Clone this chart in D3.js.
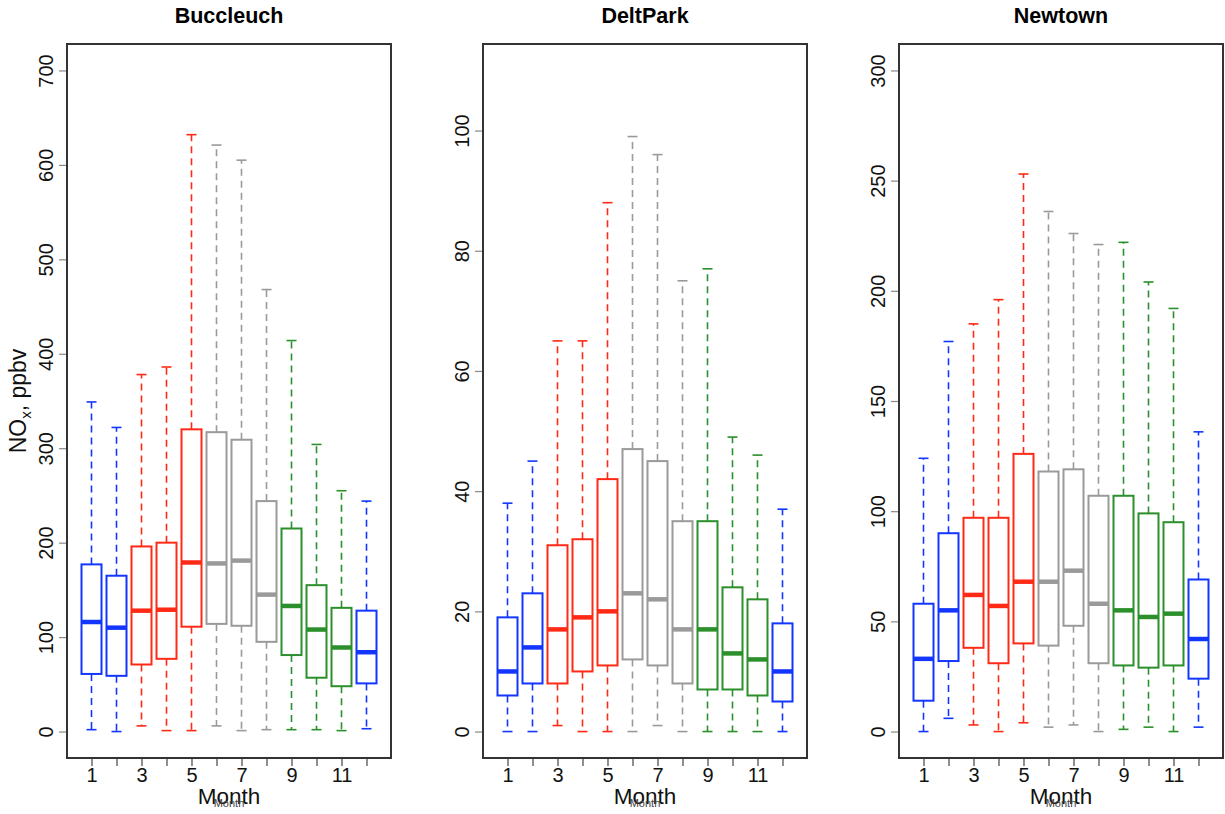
<!DOCTYPE html>
<html>
<head>
<meta charset="utf-8">
<script src="https://cdn.jsdelivr.net/npm/d3@7"></script>
<style>
  body { margin: 0; background: #fff; }
  svg { font-family: "Liberation Sans", Arial, Helvetica, sans-serif; }
</style>
</head>
<body>
<div id="chart"></div>
<script>
const months = [1, 2, 3, 4, 5, 6, 7, 8, 9, 10, 11, 12]
const monthLabels = ['1', '', '3', '', '5', '', '7', '', '9', '', '11', '']
const stations = ['Buccleuch', 'DeltPark', 'Newtown']

// season colour per month
const monthColors = ['#1236ff', '#1236ff', '#ff2a16', '#ff2a16', '#ff2a16',
  '#9a9a9a', '#9a9a9a', '#9a9a9a', '#2b8f2b', '#2b8f2b', '#2b8f2b', '#1236ff']

// Buccleuch
const buccleuchLow = [2, 0, 6, 1, 1, 6, 1, 2, 2, 2, 1, 3]
const buccleuchQ1 = [61, 59, 71, 77, 111, 114, 112, 95, 81, 57, 48, 51]
const buccleuchMed = [116, 110, 128, 129, 179, 178, 181, 145, 133, 108, 89, 84]
const buccleuchQ3 = [177, 165, 196, 200, 320, 317, 309, 244, 215, 155, 131, 128]
const buccleuchHigh = [349, 322, 378, 386, 632, 621, 605, 468, 414, 304, 255, 244]

// DeltPark
const deltParkLow = [0, 0, 1, 0, 0, 0, 1, 0, 0, 0, 0, 0]
const deltParkQ1 = [6, 8, 8, 10, 11, 12, 11, 8, 7, 7, 6, 5]
const deltParkMed = [10, 14, 17, 19, 20, 23, 22, 17, 17, 13, 12, 10]
const deltParkQ3 = [19, 23, 31, 32, 42, 47, 45, 35, 35, 24, 22, 18]
const deltParkHigh = [38, 45, 65, 65, 88, 99, 96, 75, 77, 49, 46, 37]

// Newtown
const newtownLow = [0, 6, 3, 0, 4, 2, 3, 0, 1, 2, 0, 2]
const newtownQ1 = [14, 32, 38, 31, 40, 39, 48, 31, 30, 29, 30, 24]
const newtownMed = [33, 55, 62, 57, 68, 68, 73, 58, 55, 52, 53.5, 42]
const newtownQ3 = [58, 90, 97, 97, 126, 118, 119, 107, 107, 99, 95, 69]
const newtownHigh = [124, 177, 185, 196, 253, 236, 226, 221, 222, 204, 192, 136]

const yLimits = [[0, 700], [0, 110], [0, 300]]
const yTicks = [d3.range(0, 701, 100), d3.range(0, 101, 20), d3.range(0, 301, 50)]

const statData = [
  [buccleuchLow, buccleuchQ1, buccleuchMed, buccleuchQ3, buccleuchHigh],
  [deltParkLow, deltParkQ1, deltParkMed, deltParkQ3, deltParkHigh],
  [newtownLow, newtownQ1, newtownMed, newtownQ3, newtownHigh]
]

const width = 1225
const height = 814
const panelLeft = [67, 483, 899]
const panelTop = 44
const panelW = 324
const panelH = 714

const svg = d3.select('#chart')
  .append('svg')
  .attr('width', width)
  .attr('height', height)

// R style 4% padding on both axes
function pad (lim) {
  const d = (lim[1] - lim[0]) * 0.04
  return [lim[0] - d, lim[1] + d]
}

stations.forEach((name, i) => {
  const left = panelLeft[i]
  const [low, q1, med, q3, high] = statData[i]
  const rows = months.map((m, j) => ({
    month: m, low: low[j], q1: q1[j], med: med[j], q3: q3[j], high: high[j], color: monthColors[j]
  }))

  const x = d3.scaleLinear().domain(pad([0.5, 12.5])).range([left, left + panelW])
  const y = d3.scaleLinear().domain(pad(yLimits[i])).range([panelTop + panelH, panelTop])
  const halfBox = x(1.4) - x(1)
  const halfStaple = halfBox / 2

  const g = svg.append('g')

  // title
  g.append('text')
    .attr('x', left + panelW / 2)
    .attr('y', 23)
    .attr('text-anchor', 'middle')
    .attr('font-weight', 'bold')
    .attr('font-size', 21.5)
    .text(name)

  const box = g.selectAll('.box')
    .data(rows)
    .enter()
    .append('g')
    .attr('class', 'box')

  // whiskers
  box.append('line')
    .attr('x1', d => x(d.month)).attr('x2', d => x(d.month))
    .attr('y1', d => y(d.q3)).attr('y2', d => y(d.high))
    .attr('stroke', d => d.color).attr('stroke-width', 1.6)
    .attr('stroke-dasharray', '7,5')
  box.append('line')
    .attr('x1', d => x(d.month)).attr('x2', d => x(d.month))
    .attr('y1', d => y(d.q1)).attr('y2', d => y(d.low))
    .attr('stroke', d => d.color).attr('stroke-width', 1.6)
    .attr('stroke-dasharray', '7,5')

  // staples
  box.append('line')
    .attr('x1', d => x(d.month) - halfStaple).attr('x2', d => x(d.month) + halfStaple)
    .attr('y1', d => y(d.high)).attr('y2', d => y(d.high))
    .attr('stroke', d => d.color).attr('stroke-width', 1.6)
  box.append('line')
    .attr('x1', d => x(d.month) - halfStaple).attr('x2', d => x(d.month) + halfStaple)
    .attr('y1', d => y(d.low)).attr('y2', d => y(d.low))
    .attr('stroke', d => d.color).attr('stroke-width', 1.6)

  // boxes
  box.append('rect')
    .attr('x', d => x(d.month) - halfBox)
    .attr('width', halfBox * 2)
    .attr('y', d => y(d.q3))
    .attr('height', d => y(d.q1) - y(d.q3))
    .attr('fill', '#fff')
    .attr('stroke', d => d.color)
    .attr('stroke-width', 2)

  // medians
  box.append('line')
    .attr('x1', d => x(d.month) - halfBox).attr('x2', d => x(d.month) + halfBox)
    .attr('y1', d => y(d.med)).attr('y2', d => y(d.med))
    .attr('stroke', d => d.color).attr('stroke-width', 4.5)

  // frame
  g.append('rect')
    .attr('x', left).attr('y', panelTop)
    .attr('width', panelW).attr('height', panelH)
    .attr('fill', 'none')
    .attr('stroke', '#333')
    .attr('stroke-width', 2)

  // y axis
  const yAxis = g.append('g')
    .attr('transform', 'translate(' + (left - 1) + ',0)')
    .call(d3.axisLeft(y).tickValues(yTicks[i]).tickSize(7).tickFormat(d3.format('d')))
  yAxis.select('.domain').remove()
  yAxis.selectAll('.tick line').attr('stroke', '#888').attr('stroke-width', 1.2)
  yAxis.selectAll('.tick text')
    .attr('x', 0).attr('dy', 0)
    .attr('transform', 'translate(-13.5,0) rotate(-90)')
    .attr('text-anchor', 'middle')
    .attr('font-size', 20)
    .attr('font-family', '"Liberation Sans", Arial, sans-serif')
    .attr('fill', '#111')

  // x axis
  const xAxis = g.append('g')
    .attr('transform', 'translate(0,' + (panelTop + panelH + 1) + ')')
    .call(d3.axisBottom(x).tickValues(months).tickSize(7).tickFormat((d, j) => monthLabels[j]))
  xAxis.select('.domain').remove()
  xAxis.selectAll('.tick line').attr('stroke', '#444').attr('stroke-width', 1.2)
  xAxis.selectAll('.tick text')
    .attr('y', 0).attr('dy', 0)
    .attr('transform', 'translate(0,23)')
    .attr('font-size', 20)
    .attr('font-family', '"Liberation Sans", Arial, sans-serif')
    .attr('fill', '#111')

  // x labels, a big and a small one on top of each other
  g.append('text')
    .attr('x', left + panelW / 2)
    .attr('y', 804)
    .attr('text-anchor', 'middle')
    .attr('font-size', 22.5)
    .attr('fill', '#111')
    .text('Month')
  g.append('text')
    .attr('x', left + panelW / 2)
    .attr('y', 807)
    .attr('text-anchor', 'middle')
    .attr('font-size', 11)
    .attr('fill', '#444')
    .text('Month')
})

// y label on the first panel
const yLab = svg.append('text')
  .attr('transform', 'translate(26,' + (panelTop + panelH / 2) + ') rotate(-90)')
  .attr('text-anchor', 'middle')
  .attr('font-size', 23)
  .attr('fill', '#111')
yLab.append('tspan').text('NO')
yLab.append('tspan').attr('font-size', 15).attr('dy', 5).text('x')
yLab.append('tspan').attr('dy', -5).text(', ppbv')
</script>
</body>
</html>
